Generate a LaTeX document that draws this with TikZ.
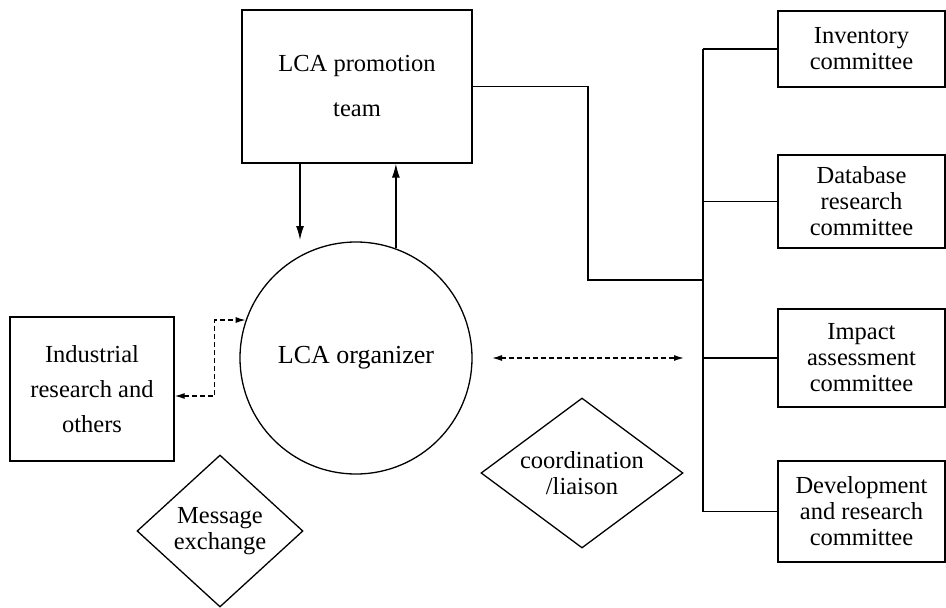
\documentclass[tikz,border=0pt]{standalone}
\usepackage{fontspec}
\setmainfont{Liberation Serif}
\usetikzlibrary{shapes.geometric,arrows.meta}

\begin{document}
\begin{tikzpicture}[x=1pt,y=-1pt,line width=1.3pt,
  txt/.style={font=\fontsize{24.5}{26}\selectfont,align=center},
  box/.style={draw,rectangle,inner sep=0pt,txt},
  combox/.style={box,minimum width=167pt},
  decision/.style={draw,diamond,inner sep=0pt,txt},
  solidarrow/.style={-{Latex[length=14pt,width=8pt]}},
  dasharrow/.style={{Latex[length=10pt,width=6pt]}-{Latex[length=10pt,width=6pt]},dash pattern=on 5pt off 3pt}]
\useasboundingbox (0,0) rectangle (946,608);

% central units
\node[box,minimum width=230pt,minimum height=153pt,
      font=\fontsize{24.5}{45}\selectfont] (team) at (357,86.5) {LCA promotion\\team};
\node[draw,circle,minimum size=232pt,inner sep=0pt,
      font=\fontsize{26}{28}\selectfont] (org) at (356,358) {LCA organizer};
\node[box,minimum width=164pt,minimum height=144pt,
      font=\fontsize{24.5}{35}\selectfont] (ind) at (92,389) {Industrial\\research and\\others};

% committees
\node[combox,minimum height=76pt]  (inv) at (861.5,49)    {Inventory\\committee};
\node[combox,minimum height=93pt]  (db)  at (861.5,201.5) {Database\\research\\committee};
\node[combox,minimum height=98pt]  (imp) at (861.5,358)   {Impact\\assessment\\committee};
\node[combox,minimum height=101pt] (dev) at (861.5,511.5) {Development\\and research\\committee};

% relation labels
\node[decision,aspect=1.35,minimum width=202pt,minimum height=150pt] (coord) at (582,473) {coordination\\/liaison};
\node[decision,aspect=1.09,minimum width=166pt,minimum height=152pt] (msg) at (220,531) {Message\\exchange};

% promotion team <-> organizer
\coordinate (down) at (300,240);
\draw[solidarrow] (team.south -| down) -- (down);
\draw[solidarrow] (org.70) -- (org.70 |- team.south);

% organizer <-> industry
\draw[dasharrow] ([yshift=-7pt]ind.east) -- ++(40,0) |- (org.161);

% coordination with the committees
\coordinate (la) at (492,358);
\coordinate (lb) at (684,358);
\draw[dasharrow] (la) -- (lb);

% committee bus
\coordinate (bend) at (588,280);
\coordinate (busx) at (703,0);
\draw (team.east) -| (bend) -- (bend -| busx);
\draw (inv.west -| busx) -- (dev.west -| busx);
\foreach \c in {inv,db,imp,dev}
  \draw (\c.west -| busx) -- (\c.west);
\end{tikzpicture}
\end{document}
